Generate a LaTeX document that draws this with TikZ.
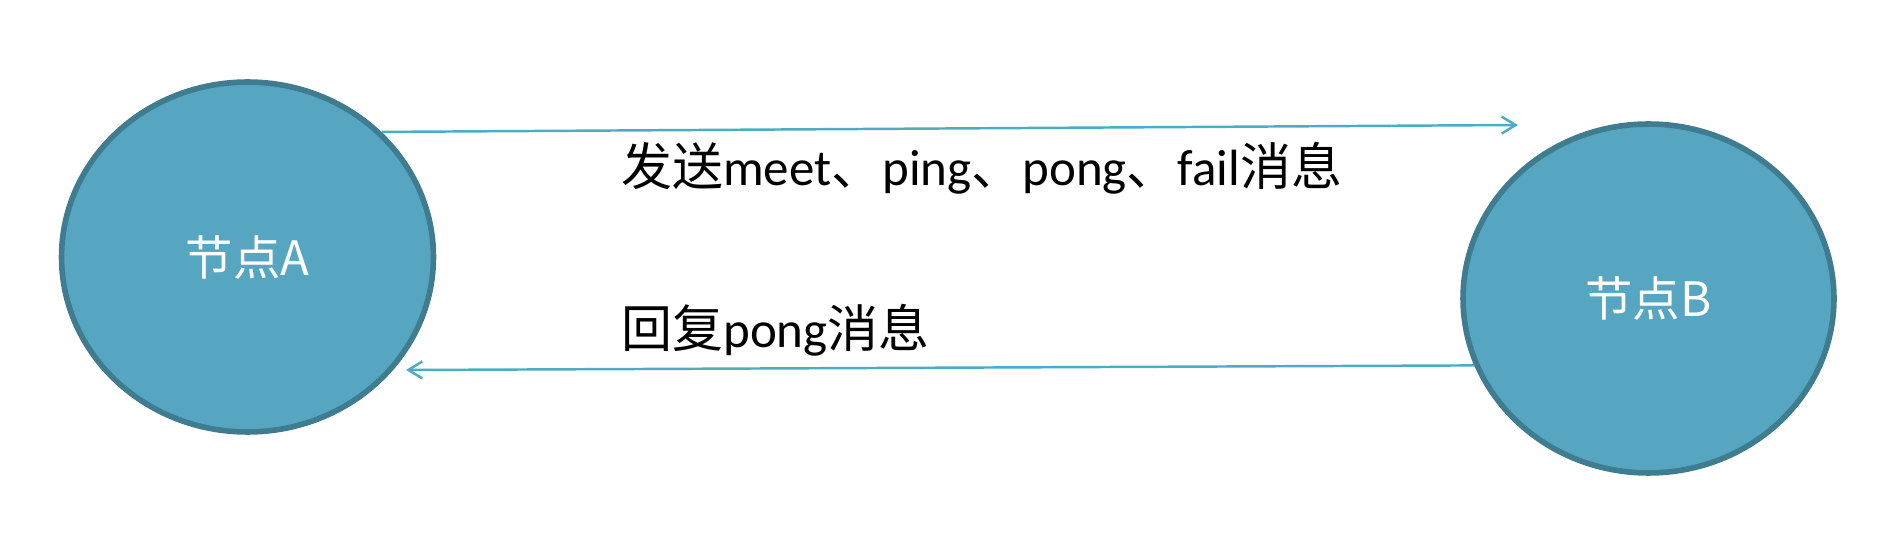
\documentclass[tikz,border=0pt]{standalone}
\usepackage{fontspec}
\setmainfont{Carlito}
\newfontfamily\cjk{Noto Sans CJK SC}
\usetikzlibrary{shapes.geometric,arrows.meta}
\definecolor{nodefill}{RGB}{86,166,194}
\definecolor{nodeedge}{RGB}{64,124,143}
\definecolor{msgline}{RGB}{75,172,198}
\tikzset{
  peer/.style={ellipse,draw=nodeedge,fill=nodefill,line width=3.2pt,text=white,
    font=\cjk\fontsize{27pt}{32pt}\selectfont,
    minimum width=7.44cm,minimum height=7.0cm,inner sep=0pt},
  msg/.style={draw=msgline,line width=1.4pt,-{Straight Barb[length=0.28cm,width=0.34cm]}},
  lbl/.style={anchor=west,inner sep=0pt,font=\fontsize{29pt}{34pt}\selectfont}
}
\begin{document}
\begin{tikzpicture}[x=0.02cm,y=-0.02cm]
\useasboundingbox (0,0) rectangle (1884,540);

\node[peer] (A) at (247.5,257) {节点A};
\node[peer,minimum width=7.42cm,minimum height=6.98cm] (B) at (1648.5,298.5) {节点B};

% free ends of the two messages
\coordinate (tipB) at (1518,125);
\coordinate (tipA) at (406,370);
\draw[msg] (A.43) -- (tipB);
\draw[msg] (B.201) -- (tipA);

\node[lbl] (send) at (621,168) {{\cjk 发送}meet{\cjk 、}ping{\cjk 、}pong{\cjk 、}fail{\cjk 消息}};
\node[lbl] (reply) at (621,330) {{\cjk 回复}pong{\cjk 消息}};
\end{tikzpicture}
\end{document}
